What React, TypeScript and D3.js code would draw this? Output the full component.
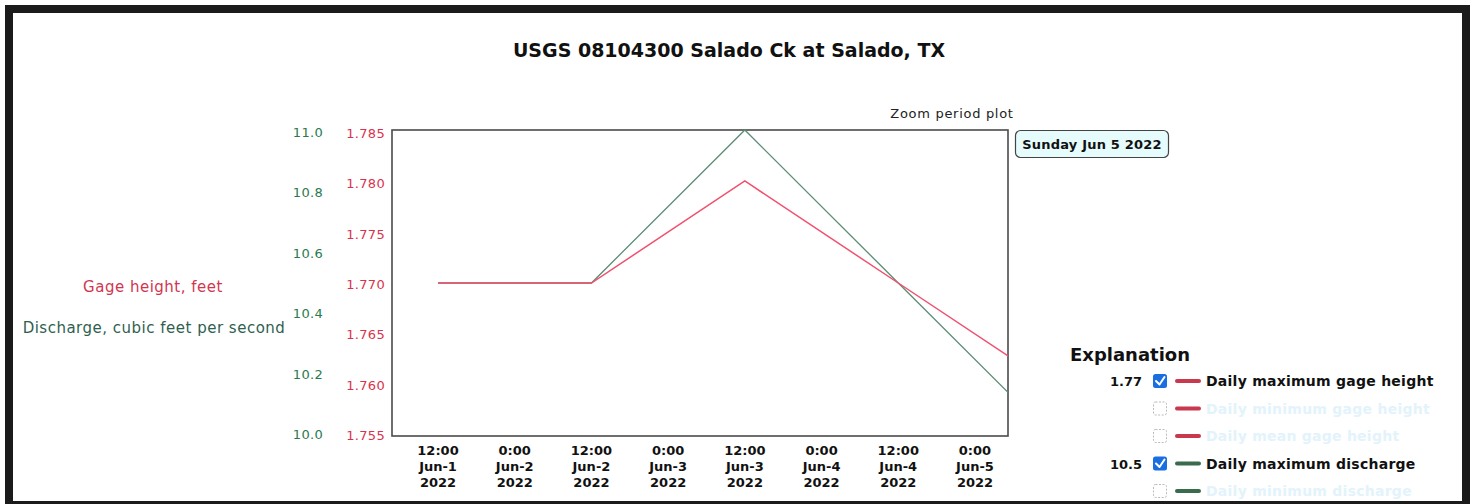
import React from "react";
import * as d3 from "d3";

const title = "USGS 08104300 Salado Ck at Salado, TX";
const dates = [
  new Date(2022, 5, 1, 12),
  new Date(2022, 5, 2, 12),
  new Date(2022, 5, 3, 12),
  new Date(2022, 5, 4, 12),
  new Date(2022, 5, 5, 12),
];
const gageHeight = [1.77, 1.77, 1.78, 1.77, 1.76];
const discharge = [10.5, 10.5, 11.0, 10.5, 10.0];
const gageTicks = [1.755, 1.76, 1.765, 1.77, 1.775, 1.78, 1.785];
const dischargeTicks = [10.0, 10.2, 10.4, 10.6, 10.8, 11.0];
const legendRows = [
  { value: "1.77", checked: true, color: "#c9384c", label: "Daily maximum gage height" },
  { value: "", checked: false, color: "#c9384c", label: "Daily minimum gage height" },
  { value: "", checked: false, color: "#c9384c", label: "Daily mean gage height" },
  { value: "10.5", checked: true, color: "#3b6b4d", label: "Daily maximum discharge" },
  { value: "", checked: false, color: "#3b6b4d", label: "Daily minimum discharge" },
];
const monthNames = ["Jan", "Feb", "Mar", "Apr", "May", "Jun", "Jul", "Aug", "Sep", "Oct", "Nov", "Dec"];

const W = 1476;
const H = 504;
const plot = { left: 392, top: 130, right: 1008, bottom: 436 };
const font = "'DejaVu Sans', Verdana, sans-serif";

export default function App() {
  const x = d3
    .scaleTime()
    .domain([new Date(2022, 5, 1, 4, 48), new Date(2022, 5, 5, 5, 10)])
    .range([plot.left, plot.right]);
  const yG = d3.scaleLinear().domain([1.755, 1.785]).range([plot.bottom, plot.top]);
  const yQ = d3.scaleLinear().domain([10.0, 11.0]).range([plot.bottom, plot.top]);

  const lineG = d3
    .line<number>()
    .x((_, i) => x(dates[i]))
    .y((d) => yG(d));
  const lineQ = d3
    .line<number>()
    .x((_, i) => x(dates[i]))
    .y((d) => yQ(d));

  const xTicks = x.ticks(d3.timeHour.every(12) as any);

  const legendX = 1070;
  const legendY0 = 381;
  const rowH = 27.5;

  return (
    <svg
      width={W}
      height={H}
      style={{ position: "absolute", left: 0, top: 0, background: "#fff" }}
      fontFamily={font}
    >
      <defs>
        <clipPath id="plotClip">
          <rect x={plot.left} y={plot.top - 2} width={plot.right - plot.left} height={plot.bottom - plot.top + 4} />
        </clipPath>
      </defs>
      <rect x={0} y={0} width={W} height={H} fill="#fff" />

      <text x={729} y={57} textAnchor="middle" fontSize={19} fontWeight="bold" fill="#111">
        {title}
      </text>

      <text x={952} y={118} textAnchor="middle" fontSize={13} fill="#222" letterSpacing={0.7}>
        Zoom period plot
      </text>

      {/* axis titles */}
      <text x={153} y={292} textAnchor="middle" fontSize={15} fill="#d2354f" letterSpacing={0.5}>
        Gage height, feet
      </text>
      <text x={154} y={333} textAnchor="middle" fontSize={15} fill="#2f5f4f" letterSpacing={0.5}>
        Discharge, cubic feet per second
      </text>

      {/* gage ticks */}
      {gageTicks.map((t) => (
        <text key={"g" + t} x={385} y={yG(t) + 2.5 - (yG(t) - 283) * 0.01} textAnchor="end" dominantBaseline="middle" fontSize={13} fill="#d8334c" letterSpacing={0.3}>
          {d3.format(".3f")(t)}
        </text>
      ))}
      {/* discharge ticks */}
      {dischargeTicks.map((t) => (
        <text key={"q" + t} x={323} y={yQ(t) + 1.5 - (yQ(t) - 283) * 0.01} textAnchor="end" dominantBaseline="middle" fontSize={13} fill="#2a7a4e" letterSpacing={0.3}>
          {d3.format(".1f")(t)}
        </text>
      ))}

      {/* x ticks */}
      {xTicks.map((t, i) => (
        <text key={"x" + i} x={x(t)} textAnchor="middle" fontSize={13} fontWeight="bold" fill="#111">
          <tspan x={x(t)} y={455}>
            {`${t.getHours()}:00`}
          </tspan>
          <tspan x={x(t)} y={471}>
            {`${monthNames[t.getMonth()]}-${t.getDate()}`}
          </tspan>
          <tspan x={x(t)} y={487}>
            {`${t.getFullYear()}`}
          </tspan>
        </text>
      ))}

      {/* plot frame */}
      <rect
        x={plot.left}
        y={plot.top}
        width={plot.right - plot.left}
        height={plot.bottom - plot.top}
        fill="#fff"
        stroke="#4a4a4a"
        strokeWidth={1.6}
      />

      <g clipPath="url(#plotClip)">
        <path d={lineQ(discharge) || ""} fill="none" stroke="#5b8d75" strokeWidth={1.3} />
        <path d={lineG(gageHeight) || ""} fill="none" stroke="#f2506e" strokeWidth={1.5} />
      </g>

      {/* tooltip */}
      <rect x={1015.5} y={130.5} width={153} height={27} rx={5} fill="#e6fbfc" stroke="#444" strokeWidth={1.2} />
      <text x={1092} y={148.5} textAnchor="middle" fontSize={13} fontWeight="bold" fill="#111" letterSpacing={0.2}>
        Sunday Jun 5 2022
      </text>

      {/* legend */}
      <text x={legendX} y={361} fontSize={18} fontWeight="bold" fill="#111">
        Explanation
      </text>
      {legendRows.map((r, i) => {
        const cy = legendY0 + i * rowH;
        return (
          <g key={"l" + i}>
            {r.value && (
              <text x={1142} y={cy + 5} textAnchor="end" fontSize={13} fontWeight="bold" fill="#111">
                {r.value}
              </text>
            )}
            {r.checked ? (
              <g>
                <rect x={1153} y={cy - 7} width={14} height={14} rx={2.5} fill="#1a6fe0" />
                <path
                  d={`M${1156},${cy} L${1159.5},${cy + 3.5} L${1164.5},${cy - 4}`}
                  fill="none"
                  stroke="#fff"
                  strokeWidth={2}
                  strokeLinecap="round"
                  strokeLinejoin="round"
                />
              </g>
            ) : (
              <rect
                x={1153.5}
                y={cy - 6.5}
                width={13}
                height={13}
                rx={2}
                fill="#fff"
                stroke="#aaa"
                strokeWidth={0.8}
                strokeDasharray="2,1.5"
              />
            )}
            <line
              x1={1177}
              x2={1199}
              y1={cy}
              y2={cy}
              stroke={r.color}
              strokeWidth={4}
              strokeLinecap="round"
            />
            <text
              x={1206}
              y={cy + 5}
              fontSize={14}
              fontWeight="bold"
              fill={r.checked ? "#111" : "#e3f3fb"}
              letterSpacing={0.25}
            >
              {r.label}
            </text>
          </g>
        );
      })}

      {/* outer frame */}
      <rect x={9} y={9} width={1457} height={496} fill="none" stroke="#1b1b1b" strokeWidth={8} />
    </svg>
  );
}
